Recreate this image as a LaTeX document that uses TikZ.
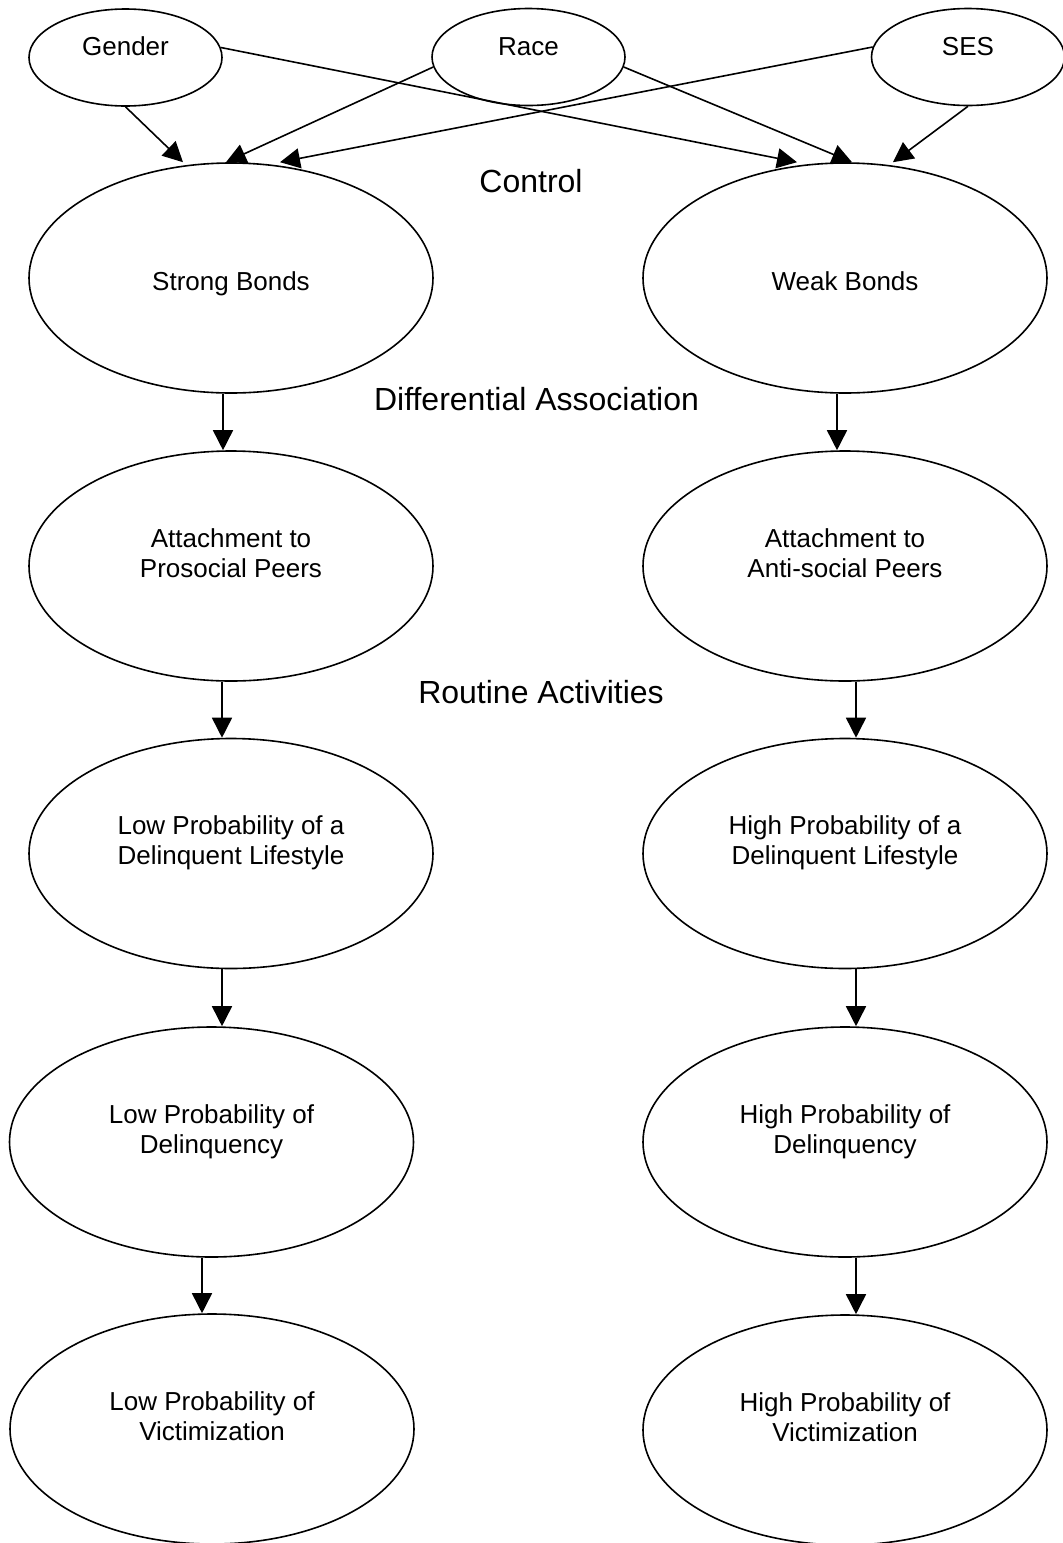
\documentclass[tikz,border=0pt]{standalone}
\usepackage{fontspec}
\setmainfont{Liberation Sans}
\usetikzlibrary{shapes.geometric,arrows.meta}
\tikzset{
  oval/.style={ellipse,draw,line width=0.8pt,inner sep=0pt,align=center,
    font=\fontsize{13pt}{15pt}\selectfont},
  bigoval/.style={oval,minimum width=202pt,minimum height=115pt,
    text height=30pt,text depth=19pt},
  bondoval/.style={oval,minimum width=202pt,minimum height=115pt,
    text height=12pt,text depth=0pt},
  smalloval/.style={oval,minimum width=96.5pt,minimum height=48.5pt,
    text height=9pt,text depth=11pt},
  theory/.style={anchor=base,font=\fontsize{16pt}{19pt}\selectfont},
  arr/.style={line width=0.8pt,-{Triangle[length=10pt,width=10pt]}}
}
\begin{document}
\begin{tikzpicture}[x=0.5pt,y=-0.5pt]
\useasboundingbox (0,0) rectangle (1063,1543);

\node[smalloval] (gender) at (125.5,57.5) {Gender};
\node[smalloval] (race) at (528.5,57) {Race};
\node[smalloval] (ses) at (968,57) {SES};

\node[bondoval] (strong) at (231,278) {Strong Bonds};
\node[bondoval] (weak) at (845,278) {Weak Bonds};

\node[bigoval] (prosocial) at (231,566) {Attachment to\\Prosocial Peers};
\node[bigoval] (antisocial) at (845,566) {Attachment to\\Anti-social Peers};

\node[bigoval] (lowlife) at (231,853.5) {Low Probability of a\\Delinquent Lifestyle};
\node[bigoval] (highlife) at (845,853.5) {High Probability of a\\Delinquent Lifestyle};

\node[bigoval] (lowdel) at (211.5,1142) {Low Probability of\\Delinquency};
\node[bigoval] (highdel) at (845,1142) {High Probability of\\Delinquency};

\node[bigoval] (lowvic) at (212,1429) {Low Probability of\\Victimization};
\node[bigoval] (highvic) at (845,1430) {High Probability of\\Victimization};

\node[theory] (control) at (531,192) {Control};
\node[theory] (diffassoc) at (536.5,410) {Differential Association};
\node[theory] (routine) at (541,703) {Routine Activities};

\draw[arr] (gender.south) -- ([xshift=-24pt]strong.north);
\draw[arr] (gender.6) -- ([xshift=-24pt]weak.north);
\draw[arr] (race.186) -- ([xshift=-2.5pt]strong.north);
\draw[arr] (race.354) -- ([xshift=3.5pt]weak.north);
\draw[arr] (ses.174) -- ([xshift=24.5pt]strong.north);
\draw[arr] (ses.south) -- ([xshift=24pt]weak.north);

\draw[arr] ([xshift=-4pt]strong.south) -- ([xshift=-4pt]prosocial.north);
\draw[arr] ([xshift=-4pt]weak.south) -- ([xshift=-4pt]antisocial.north);
\draw[arr] ([xshift=-4.5pt]prosocial.south) -- ([xshift=-4.5pt]lowlife.north);
\draw[arr] ([xshift=5.5pt]antisocial.south) -- ([xshift=5.5pt]highlife.north);
\draw[arr] ([xshift=-4.5pt]lowlife.south) -- ([xshift=5.25pt]lowdel.north);
\draw[arr] ([xshift=5.5pt]highlife.south) -- ([xshift=5.5pt]highdel.north);
\draw[arr] ([xshift=-4.75pt]lowdel.south) -- ([xshift=-5pt]lowvic.north);
\draw[arr] ([xshift=5.5pt]highdel.south) -- ([xshift=5.5pt]highvic.north);
\end{tikzpicture}
\end{document}
